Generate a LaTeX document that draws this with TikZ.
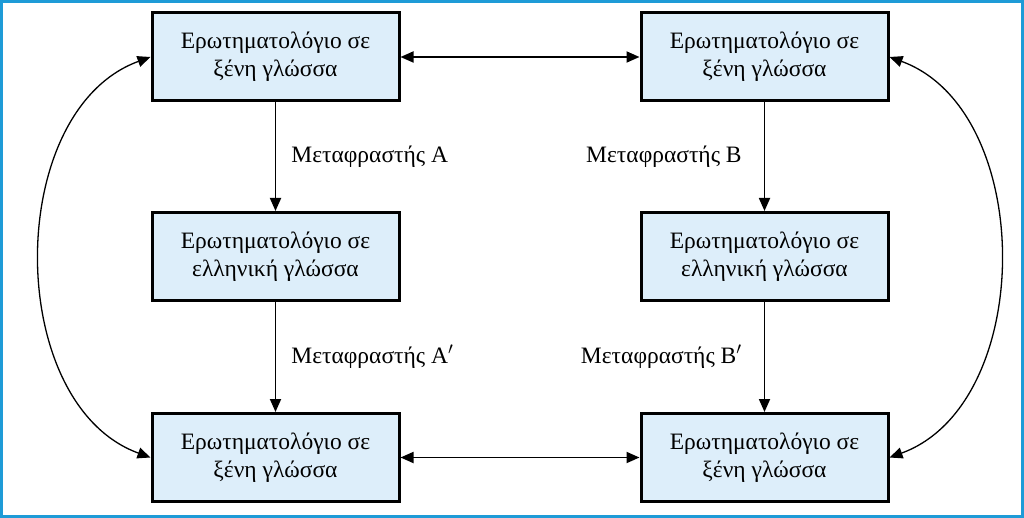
\documentclass[tikz,border=0pt]{standalone}
\usepackage{fontspec}
\setmainfont{Liberation Serif}
\usetikzlibrary{arrows.meta}
\definecolor{frameblue}{HTML}{1E9BD7}
\definecolor{boxfill}{HTML}{DDEEFA}
\tikzset{
  qbox/.style={draw=black, line width=3pt, fill=boxfill, minimum width=247pt, minimum height=88pt, inner sep=0pt, align=center, font=\fontsize{23.5}{28}\selectfont},
  conn/.style={line width=1.8pt, -{Triangle[length=13pt,width=11pt]}},
  dconn/.style={line width=1.8pt, {Triangle[length=13pt,width=11pt]}-{Triangle[length=13pt,width=11pt]}},
  curv/.style={line width=1.3pt, {Triangle[length=13pt,width=11pt]}-{Triangle[length=13pt,width=11pt]}},
  lbl/.style={font=\fontsize{23.5}{28}\selectfont, inner sep=0pt}
}
\begin{document}
\begin{tikzpicture}[x=1pt,y=-1pt]
\useasboundingbox (0,0) rectangle (1024,518);
\draw[frameblue, line width=3pt] (1.5,1.5) rectangle (1022.5,516.5);
\node[qbox] (tl) at (275.5,57) {Ερωτηματολόγιο σε\\ξένη γλώσσα};
\node[qbox] (ml) at (275.5,256.5) {Ερωτηματολόγιο σε\\ελληνική γλώσσα};
\node[qbox] (bl) at (275.5,457.5) {Ερωτηματολόγιο σε\\ξένη γλώσσα};
\node[qbox] (tr) at (764.5,57) {Ερωτηματολόγιο σε\\ξένη γλώσσα};
\node[qbox] (mr) at (764.5,256.5) {Ερωτηματολόγιο σε\\ελληνική γλώσσα};
\node[qbox] (br) at (764.5,457.5) {Ερωτηματολόγιο σε\\ξένη γλώσσα};
\draw[conn] (tl) -- (ml) node[midway, right=15pt, lbl] (la) {Μεταφραστής Α};
\draw[conn] (ml) -- (bl) node[midway, right=15pt, lbl] (la2) {Μεταφραστής Α$'$};
\draw[conn] (tr) -- (mr) node[midway, left=22pt, lbl] (lb) {Μεταφραστής Β};
\draw[conn] (mr) -- (br) node[midway, left=22pt, lbl] (lb2) {Μεταφραστής Β$'$};
\draw[dconn] (tl) -- (tr);
\draw[dconn] (bl) -- (br);
\draw[curv] (bl.west) to[out=160, in=200] (tl.west);
\draw[curv] (br.east) to[out=20, in=-20] (tr.east);
\end{tikzpicture}
\end{document}
